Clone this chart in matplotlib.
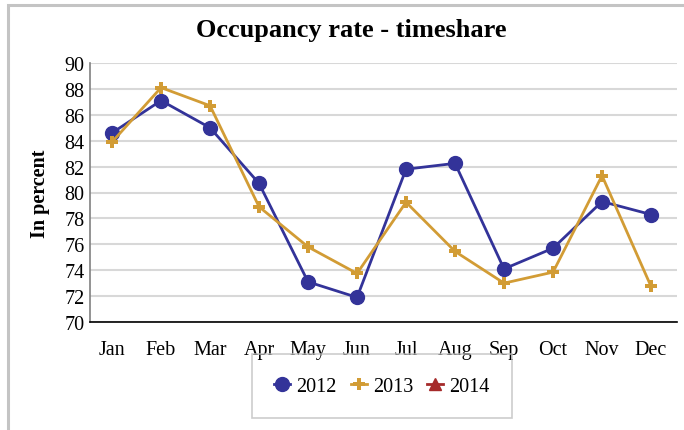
import matplotlib.pyplot as plt
from matplotlib.patches import Rectangle

months = ['Jan', 'Feb', 'Mar', 'Apr', 'May', 'Jun',
          'Jul', 'Aug', 'Sep', 'Oct', 'Nov', 'Dec']
rate_2012 = [84.6, 87.1, 85.0, 80.7, 73.1, 71.9, 81.8, 82.25, 74.1, 75.7, 79.3, 78.3]
rate_2013 = [83.9, 88.1, 86.7, 78.9, 75.8, 73.75, 79.25, 75.45, 73.0, 73.85, 81.3, 72.75]
rate_2014 = []  # no data yet, legend entry only
y_ticks = list(range(70, 91, 2))

plt.rcParams['font.family'] = ['Liberation Serif', 'DejaVu Serif']

fig = plt.figure(figsize=(6.84, 4.31), dpi=100)
W, H = 684, 431

# grey frame around the chart
fig.add_artist(Rectangle((8 / W, -0.05), 1.0, 1.05 - 6 / H, transform=fig.transFigure,
                         fill=False, edgecolor='#c4c4c4', linewidth=2.2))

ax = fig.add_axes([90 / W, 1 - 323 / H, (677 - 90) / W, (323 - 64) / H])

x = list(range(len(months)))
ax.plot(x, rate_2012, color='#333399', linewidth=2.0, marker='o',
        markersize=10, label='2012', zorder=3)
ax.plot(x, rate_2013, color='#d29c35', linewidth=2.0, marker='P',
        markersize=8.5, markeredgewidth=0, label='2013', zorder=3)
ax.plot(list(range(len(rate_2014))), rate_2014, color='#a52a2a', linewidth=2.0,
        marker='^', markersize=9, label='2014')

ax.set_ylim(70, 90)
ax.set_yticks(y_ticks)
ax.set_xlim(-0.45, 11.53)
ax.set_xticks(x)
ax.set_xticklabels(months)
ax.tick_params(axis='both', length=0, labelsize=14.5, colors='black')
ax.tick_params(axis='x', pad=13)
ax.tick_params(axis='y', pad=4)

ax.grid(axis='y', color='#d8d8d8', linewidth=1.5)
ax.set_axisbelow(True)
for side in ('top', 'right'):
    ax.spines[side].set_visible(False)
ax.spines['left'].set_color('#808080')
ax.spines['left'].set_linewidth(1.2)
ax.spines['bottom'].set_color('black')
ax.spines['bottom'].set_linewidth(1.2)

ax.set_ylabel('In percent', fontsize=14.5, fontweight='bold', labelpad=10)
fig.text(0.513, 1 - 30 / H, 'Occupancy rate - timeshare', ha='center', va='center',
         fontsize=19, fontweight='bold')

leg = fig.legend(loc='center', bbox_to_anchor=(382 / W, 1 - 387 / H), ncol=3,
                 fontsize=14.5, frameon=True, fancybox=False, handlelength=0.8,
                 handletextpad=0.3, columnspacing=0.7, borderpad=1.1,
                 borderaxespad=0, edgecolor='#c0c0c0', facecolor='none',
                 framealpha=None)
leg.get_frame().set_linewidth(1.2)

fig.savefig('out.png', dpi=100)
